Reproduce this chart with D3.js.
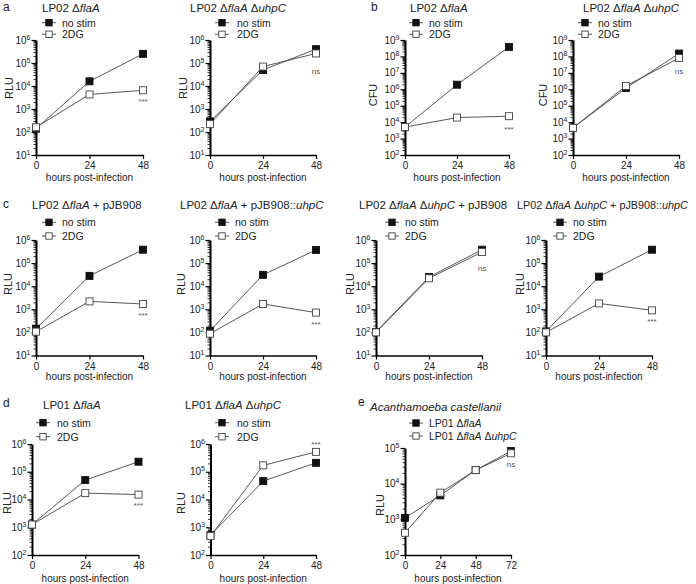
<!DOCTYPE html>
<html><head><meta charset="utf-8">
<script src="https://cdn.jsdelivr.net/npm/d3@7"></script>
<style>
body{margin:0;background:#fff}
text{font-family:"Liberation Sans",Arial,Helvetica,sans-serif;fill:#222}
</style>
</head><body>
<svg id="c" width="696" height="584"></svg>
<script>
// ---------- DATA ----------
const hours = [0, 24, 48];
const hoursE = [0, 24, 48, 72];
const seriesNames = ["no stim", "2DG"];
const seriesNamesE = ["LP01 Δ*flaA*", "LP01 Δ*flaA* Δ*uhpC*"];

const a1NoStim = [140, 16000, 250000];
const a1TwoDG  = [160, 4300, 6500];
const a2NoStim = [290, 50000, 400000];
const a2TwoDG  = [220, 70000, 260000];
const b1NoStim = [5000, 1900000, 3.8e8];
const b1TwoDG  = [5000, 19000, 23000];
const b2NoStim = [4500, 1200000, 1.5e8];
const b2TwoDG  = [4500, 1600000, 8e7];
const c1NoStim = [145, 28000, 380000];
const c1TwoDG  = [108, 2200, 1700];
const c2NoStim = [118, 31000, 370000];
const c2TwoDG  = [88, 1700, 720];
const c3NoStim = [105, 25000, 380000];
const c3TwoDG  = [100, 22000, 300000];
const c4NoStim = [110, 26000, 380000];
const c4TwoDG  = [100, 1800, 900];
const d1NoStim = [1250, 50000, 230000];
const d1TwoDG  = [1250, 17000, 15000];
const d2NoStim = [520, 46000, 210000];
const d2TwoDG  = [480, 170000, 520000];
const eFlaA    = [1100, 4700, 24000, 82000];
const eUhpC    = [420, 5600, 24000, 71000];

const titles = {
  a1: "LP02 Δ*flaA*", a2: "LP02 Δ*flaA* Δ*uhpC*",
  b1: "LP02 Δ*flaA*", b2: "LP02 Δ*flaA* Δ*uhpC*",
  c1: "LP02 Δ*flaA* + pJB908", c2: "LP02 Δ*flaA* + pJB908::*uhpC*",
  c3: "LP02 Δ*flaA* Δ*uhpC* + pJB908", c4: "LP02 Δ*flaA* Δ*uhpC* + pJB908::*uhpC*",
  d1: "LP01 Δ*flaA*", d2: "LP01 Δ*flaA* Δ*uhpC*",
  e: "*Acanthamoeba castellanii*"
};
const sigLabels = {a1:"***", a2:"ns", b1:"***", b2:"ns", c1:"***", c2:"***", c3:"ns", c4:"***", d1:"***", d2:"***", e:"ns"};
const xTitle = "hours post-infection";

// ---------- LAYOUT ----------
const rowA = {top:40, bot:155, ty:11.5, legY:[22.7,34.3], xlab:180.5};
const rowC = {top:240, bot:355.5, ty:209, legY:[222.3,236], xlab:380};
const rowD = {top:444, bot:555, ty:409, legY:[422.7,436.7], xlab:582};

const panels = [
 {id:"a1", row:rowA, ax:36, xEnd:143, exp:[1,6], yl:"RLU", ylx:9, yly:88, tx:42, leg:[49,62], hrs:hours, s:[a1NoStim,a1TwoDG], names:seriesNames, sig:[143,99]},
 {id:"a2", row:rowA, ax:210, xEnd:316, exp:[1,6], yl:"RLU", ylx:183, yly:88, tx:190, leg:[222,237], hrs:hours, s:[a2NoStim,a2TwoDG], names:seriesNames, sig:[316,71]},
 {id:"b1", row:rowA, ax:405, xEnd:509, exp:[2,9], yl:"CFU", ylx:373, yly:95, tx:410, leg:[416,429], hrs:hours, s:[b1NoStim,b1TwoDG], names:seriesNames, sig:[509,127]},
 {id:"b2", row:rowA, ax:573, xEnd:679, exp:[2,9], yl:"CFU", ylx:543, yly:95, tx:583, leg:[585,598], hrs:hours, s:[b2NoStim,b2TwoDG], names:seriesNames, sig:[679,71]},
 {id:"c1", row:rowC, ax:36, xEnd:143, exp:[1,6], yl:"RLU", ylx:8, yly:284, tx:32, leg:[49,62], hrs:hours, s:[c1NoStim,c1TwoDG], names:seriesNames, sig:[143,313]},
 {id:"c2", row:rowC, ax:210, xEnd:316, exp:[1,6], yl:"RLU", ylx:181, yly:284, tx:180, leg:[222,235], hrs:hours, s:[c2NoStim,c2TwoDG], names:seriesNames, sig:[316,322]},
 {id:"c3", row:rowC, ax:376, xEnd:482, exp:[1,6], yl:"RLU", ylx:350, yly:284, tx:359, leg:[392,405], hrs:hours, s:[c3NoStim,c3TwoDG], names:seriesNames, sig:[482,268]},
 {id:"c4", row:rowC, ax:546, xEnd:652, exp:[1,6], yl:"RLU", ylx:520, yly:284, tx:517, tfs:10.8, leg:[560,573], hrs:hours, s:[c4NoStim,c4TwoDG], names:seriesNames, sig:[652,319]},
 {id:"d1", row:rowD, ax:32, xEnd:138.5, exp:[2,6], yl:"RLU", ylx:7, yly:503, tx:43, leg:[43,57], hrs:hours, s:[d1NoStim,d1TwoDG], names:seriesNames, sig:[138.5,503]},
 {id:"d2", row:rowD, ax:210.5, xEnd:316, exp:[2,6], yl:"RLU", ylx:181, yly:503, tx:185, leg:[222,237], hrs:hours, s:[d2NoStim,d2TwoDG], names:seriesNames, sig:[316,442]},
 {id:"e", row:{top:448, bot:555, ty:411, legY:[423,436], xlab:582}, ax:405, xEnd:511, exp:[2,5], yl:"RLU", ylx:380, yly:505, tx:370, leg:[416,429], hrs:hoursE, s:[eFlaA,eUhpC], names:seriesNamesE, sig:[511,464]}
];
const letters = [["a",3,11],["b",371,11],["c",3,208],["d",3,407],["e",358,406]];

const svg = d3.select("#c");

function rich(sel, str){
  str.split("*").forEach((p,i)=>{ if(p) sel.append("tspan").attr("font-style", i%2 ? "italic" : "normal").text(p); });
  return sel;
}

letters.forEach(([l,x,y])=>svg.append("text").attr("x",x).attr("y",y).attr("font-size",12).text(l));

panels.forEach(p=>{
  const g = svg.append("g");
  const R = p.row;
  const x = d3.scaleLinear().domain([0, d3.max(p.hrs)]).range([p.ax, p.xEnd]);
  const y = d3.scaleLog().domain([10**p.exp[0], 10**p.exp[1]]).range([R.bot, R.top]);

  // y axis minor ticks
  const minor = [];
  for (let e=p.exp[0]; e<p.exp[1]; e++) for (let k=2;k<=9;k++) minor.push(k*10**e);
  const majors = d3.range(p.exp[0], p.exp[1]+1).map(e=>10**e);
  const gm = g.append("g").attr("transform",`translate(${p.ax},0)`)
     .call(d3.axisLeft(y).tickValues(minor).tickSize(2.5).tickSizeOuter(0).tickFormat(""));
  gm.select(".domain").remove();
  gm.selectAll("line").attr("stroke","#000").attr("stroke-width",0.8);
  const gy = g.append("g").attr("transform",`translate(${p.ax},0)`)
     .call(d3.axisLeft(y).tickValues(majors).tickSize(4.5).tickSizeOuter(0).tickFormat(""));
  gy.select(".domain").attr("stroke","#000").attr("stroke-width",2);
  gy.selectAll("line").attr("stroke","#000").attr("stroke-width",1.2);
  majors.forEach((v,i)=>{
    const t = g.append("text").attr("x",p.ax-5.5).attr("y",y(v)+3.6).attr("text-anchor","end").attr("font-size",10);
    t.append("tspan").text("10");
    t.append("tspan").attr("dy",-4).attr("font-size",7).text(p.exp[0]+i);
  });

  // x axis
  const gx = g.append("g").attr("transform",`translate(0,${R.bot})`)
     .call(d3.axisBottom(x).tickValues(p.hrs).tickSize(4).tickSizeOuter(0).tickPadding(3));
  gx.select(".domain").attr("stroke","#000").attr("stroke-width",1.6);
  gx.selectAll("line").attr("stroke","#000").attr("stroke-width",1.2);
  gx.selectAll("text").attr("font-size",10).attr("font-family",'"Liberation Sans",Arial,sans-serif').attr("fill","#222");
  g.append("text").attr("x",(p.ax+p.xEnd)/2).attr("y",R.xlab).attr("text-anchor","middle").attr("font-size",10).text(xTitle);

  // y label
  g.append("text").attr("transform",`translate(${p.ylx+4},${p.yly}) rotate(-90)`).attr("text-anchor","middle").attr("font-size",11).text(p.yl);

  // title
  rich(g.append("text").attr("x",p.tx).attr("y",R.ty).attr("font-size",p.tfs || 11.5), titles[p.id]);

  // lines
  const line = d3.line().x((d,i)=>x(p.hrs[i])).y(d=>y(d));
  p.s.forEach(vals=>g.append("path").attr("d",line(vals)).attr("fill","none").attr("stroke","#444").attr("stroke-width",0.9));
  // markers
  const ms = 7;
  p.s.forEach((vals,si)=>{
    g.selectAll(null).data(vals).enter().append("rect")
      .attr("x",(d,i)=>x(p.hrs[i])-ms/2).attr("y",d=>y(d)-ms/2).attr("width",ms).attr("height",ms)
      .attr("fill", si===0 ? "#111" : "#fff").attr("stroke", si===0 ? "#111" : "#444").attr("stroke-width",0.9);
  });

  // legend
  p.names.forEach((nm,si)=>{
    const ly = R.legY[si], lx = p.leg[0];
    g.append("line").attr("x1",lx-7).attr("x2",lx+7).attr("y1",ly).attr("y2",ly).attr("stroke","#444").attr("stroke-width",0.9);
    g.append("rect").attr("x",lx-3.2).attr("y",ly-3.2).attr("width",6.4).attr("height",6.4)
      .attr("fill", si===0 ? "#111" : "#fff").attr("stroke", si===0 ? "#111" : "#444").attr("stroke-width",0.9);
    rich(g.append("text").attr("x",p.leg[1]).attr("y",ly+3.8).attr("font-size",10.5), nm);
  });

  // significance
  const lab = sigLabels[p.id];
  g.append("text").attr("x",p.sig[0]).attr("y",p.sig[1] + (lab==="ns" ? 2.5 : 4.5)).attr("text-anchor","middle")
    .attr("font-size",8).style("fill","#555").text(lab);
});
</script>
</body></html>
